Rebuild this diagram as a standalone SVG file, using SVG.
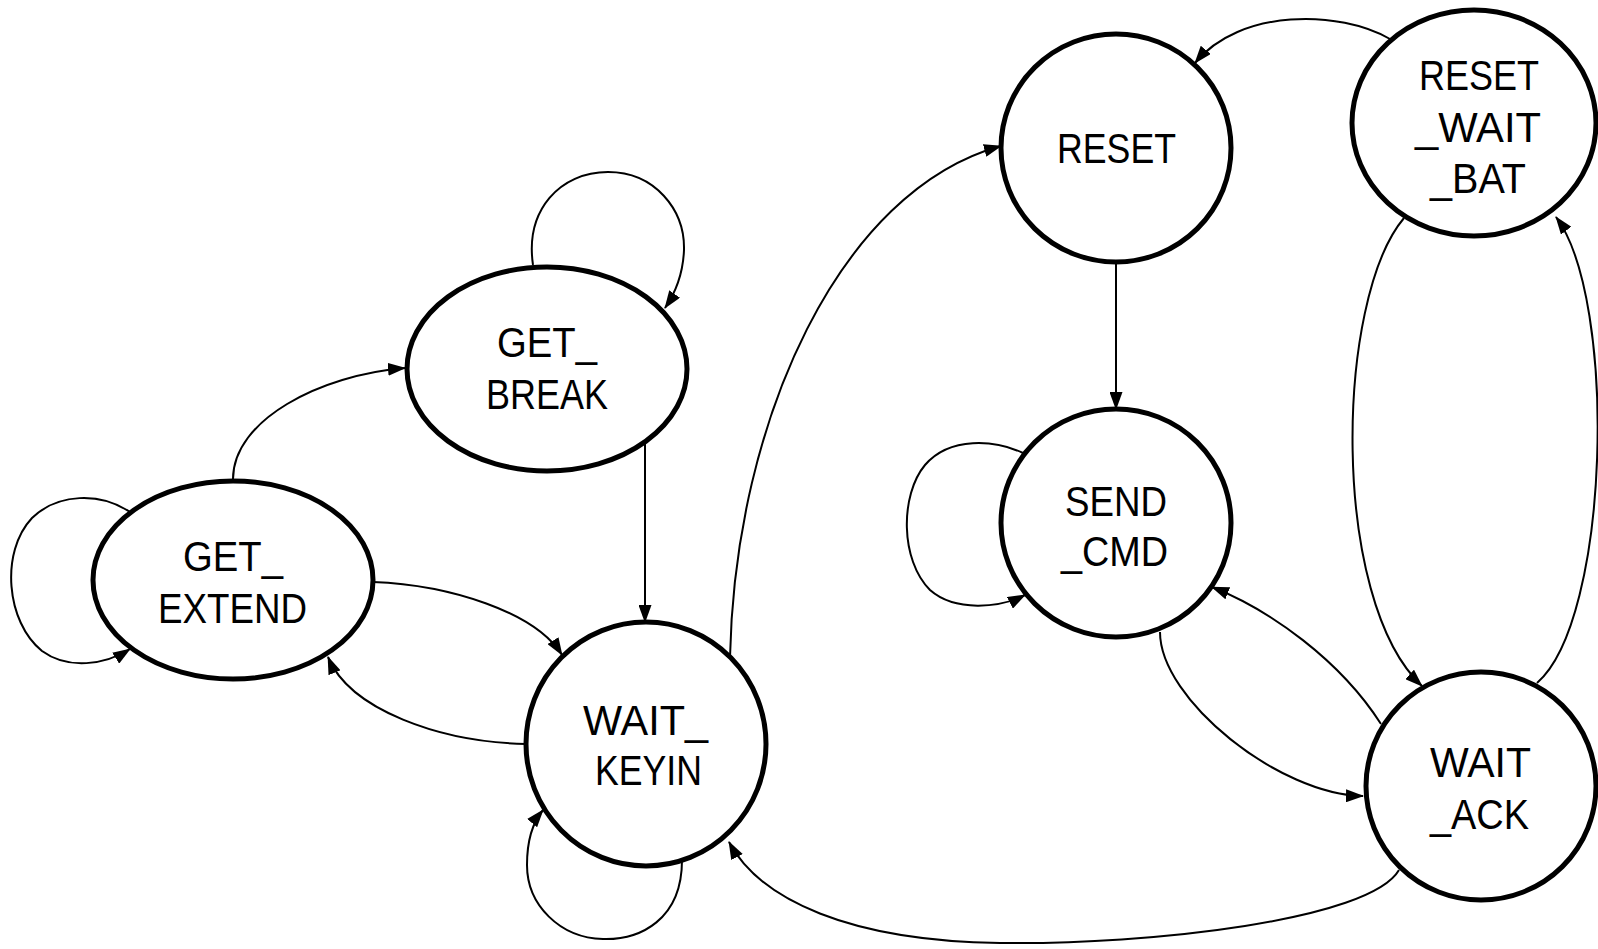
<svg xmlns="http://www.w3.org/2000/svg" width="1598" height="949" viewBox="0 0 1598 949">
<style>
.node{fill:#fff;stroke:#000;stroke-width:5}
.edge{fill:none;stroke:#000;stroke-width:2;marker-end:url(#arr)}
text{font-family:"Liberation Sans",Arial,sans-serif;font-size:42px;fill:#000}
</style>
<defs>
<marker id="arr" markerUnits="userSpaceOnUse" markerWidth="18" markerHeight="13" viewBox="0 0 18 13" refX="17" refY="6.5" orient="auto">
<path d="M0,0 L18,6.5 L0,13 z" fill="#000"/>
</marker>
</defs>
<rect width="1598" height="949" fill="#fff"/>
<g id="connectors">
<path class="edge" d="M533,265 C525,210 560,172 608,172 C655,172 685,210 684,250 C683,275 676,292 665,308"/>
<path class="edge" d="M233,479 C233,420 320,375 405,368"/>
<path class="edge" d="M130,512 C100,492 58,493 32,518 C0,552 6,622 42,651 C68,670 105,665 130,649"/>
<path class="edge" d="M373,582 C450,585 535,612 562,655"/>
<path class="edge" d="M526,744 C440,742 350,710 328,657"/>
<path class="edge" d="M645,442 L645,622"/>
<path class="edge" d="M682,860 C682,920 640,940 603,939 C560,938 527,905 527,865 C527,840 533,822 543,810"/>
<path class="edge" d="M730,657 C735,420 840,190 1001,146"/>
<path class="edge" d="M1116,262 L1116,409"/>
<path class="edge" d="M1390,39 C1340,10 1240,8 1195,63"/>
<path class="edge" d="M1023,453 C995,440 950,436 925,465 C900,495 900,560 930,590 C955,612 1000,608 1025,595"/>
<path class="edge" d="M1404,218 C1335,300 1330,600 1422,686"/>
<path class="edge" d="M1537,683 C1610,620 1618,300 1556,217"/>
<path class="edge" d="M1381,724 C1340,660 1270,610 1212,587"/>
<path class="edge" d="M1160,632 C1160,700 1280,795 1363,796"/>
<path class="edge" d="M1399,870 C1370,920 1150,945 1000,943 C850,941 760,900 729,842"/>
</g>
<g id="GET_BREAK">
<ellipse class="node" cx="547" cy="369" rx="140" ry="102"/>
<text x="497" y="357" textLength="100" lengthAdjust="spacingAndGlyphs">GET_</text>
<text x="486" y="409" textLength="122" lengthAdjust="spacingAndGlyphs">BREAK</text>
</g>
<g id="GET_EXTEND">
<ellipse class="node" cx="233" cy="580" rx="140" ry="99"/>
<text x="183" y="571" textLength="100" lengthAdjust="spacingAndGlyphs">GET_</text>
<text x="158" y="623" textLength="149" lengthAdjust="spacingAndGlyphs">EXTEND</text>
</g>
<g id="WAIT_KEYIN">
<ellipse class="node" cx="646" cy="744" rx="120" ry="122"/>
<text x="583" y="735" textLength="125" lengthAdjust="spacingAndGlyphs">WAIT_</text>
<text x="595" y="785" textLength="107" lengthAdjust="spacingAndGlyphs">KEYIN</text>
</g>
<g id="RESET">
<ellipse class="node" cx="1116" cy="148" rx="115" ry="114"/>
<text x="1057" y="163" textLength="119" lengthAdjust="spacingAndGlyphs">RESET</text>
</g>
<g id="RESET_WAIT_BAT">
<ellipse class="node" cx="1474" cy="123" rx="122" ry="113"/>
<text x="1419" y="90" textLength="120" lengthAdjust="spacingAndGlyphs">RESET</text>
<text x="1415" y="142" textLength="126" lengthAdjust="spacingAndGlyphs">_WAIT</text>
<text x="1430" y="193" textLength="96" lengthAdjust="spacingAndGlyphs">_BAT</text>
</g>
<g id="SEND_CMD">
<ellipse class="node" cx="1116" cy="523" rx="115" ry="114"/>
<text x="1065" y="516" textLength="102" lengthAdjust="spacingAndGlyphs">SEND</text>
<text x="1061" y="566" textLength="107" lengthAdjust="spacingAndGlyphs">_CMD</text>
</g>
<g id="WAIT_ACK">
<ellipse class="node" cx="1481" cy="786" rx="115" ry="114"/>
<text x="1430" y="777" textLength="101" lengthAdjust="spacingAndGlyphs">WAIT</text>
<text x="1430" y="829" textLength="99" lengthAdjust="spacingAndGlyphs">_ACK</text>
</g>
</svg>
